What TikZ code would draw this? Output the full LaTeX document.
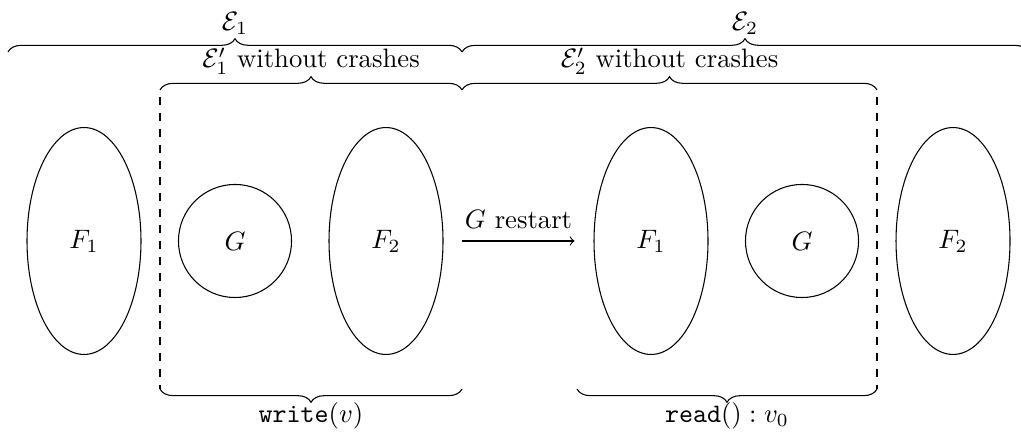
\documentclass[tikz,border=0pt]{standalone}
\usetikzlibrary{shapes.geometric,decorations.pathreplacing}
\begin{document}
\begin{tikzpicture}[x=0.375pt,y=-0.375pt,
  tallnode/.style={ellipse,draw,inner sep=0pt,minimum width=42.75pt,minimum height=85.1pt},
  roundnode/.style={circle,draw,inner sep=0pt,minimum size=42.4pt},
  bracedeco/.style={decorate,decoration={brace,amplitude=5pt}},
  bracelabel/.style={inner sep=1pt},
  boxline/.style={dashed}]
\useasboundingbox (0,0) rectangle (1021,432);
% components
\node[tallnode] (F1a) at (84,241) {$F_1$};
\node[roundnode] (Ga) at (235,241) {$G$};
\node[tallnode] (F2a) at (386,241) {$F_2$};
\node[tallnode] (F1b) at (651,241) {$F_1$};
\node[roundnode] (Gb) at (802,241) {$G$};
\node[tallnode] (F2b) at (953,241) {$F_2$};
% restart arrow
\draw[->,shorten <=7.1pt,shorten >=7.1pt] (F2a.east) -- node[bracelabel,above=3.5pt] {$G$ restart} (F1b.west);
% brace end points
\coordinate (e1l) at (8,52);
\coordinate (e1r) at (462,52);
\coordinate (e2r) at (1028,52);
\coordinate (p1l) at (160,90);
\coordinate (p1r) at (462,90);
\coordinate (p2r) at (877,90);
\coordinate (dlt) at (160,97);
\coordinate (dlb) at (160,389);
\coordinate (drt) at (877,97);
\coordinate (drb) at (877,389);
\coordinate (wr) at (462,389);
\coordinate (rl) at (577,389);
% top braces
\draw[bracedeco] (e1l) -- node[bracelabel,above=5.4pt] (E1) {$\mathcal{E}_1$} (e1r);
\draw[bracedeco] (e1r) -- node[bracelabel,above=5.4pt] (E2) {$\mathcal{E}_2$} (e2r);
\draw[bracedeco] (p1l) -- node[bracelabel,above=4.6pt] (P1) {$\mathcal{E}_1'$ without crashes} (p1r);
\draw[bracedeco] (p1r) -- node[bracelabel,above=4.6pt] (P2) {$\mathcal{E}_2'$ without crashes} (p2r);
% dashed sides
\draw[boxline] (dlt) -- (dlb);
\draw[boxline] (drt) -- (drb);
% bottom braces
\draw[bracedeco] (wr) -- node[bracelabel,below=4pt] (W) {\texttt{write}$(v)$} (dlb);
\draw[bracedeco] (drb) -- node[bracelabel,below=4pt] (R) {$\texttt{read}() : v_0$} (rl);
\end{tikzpicture}
\end{document}
